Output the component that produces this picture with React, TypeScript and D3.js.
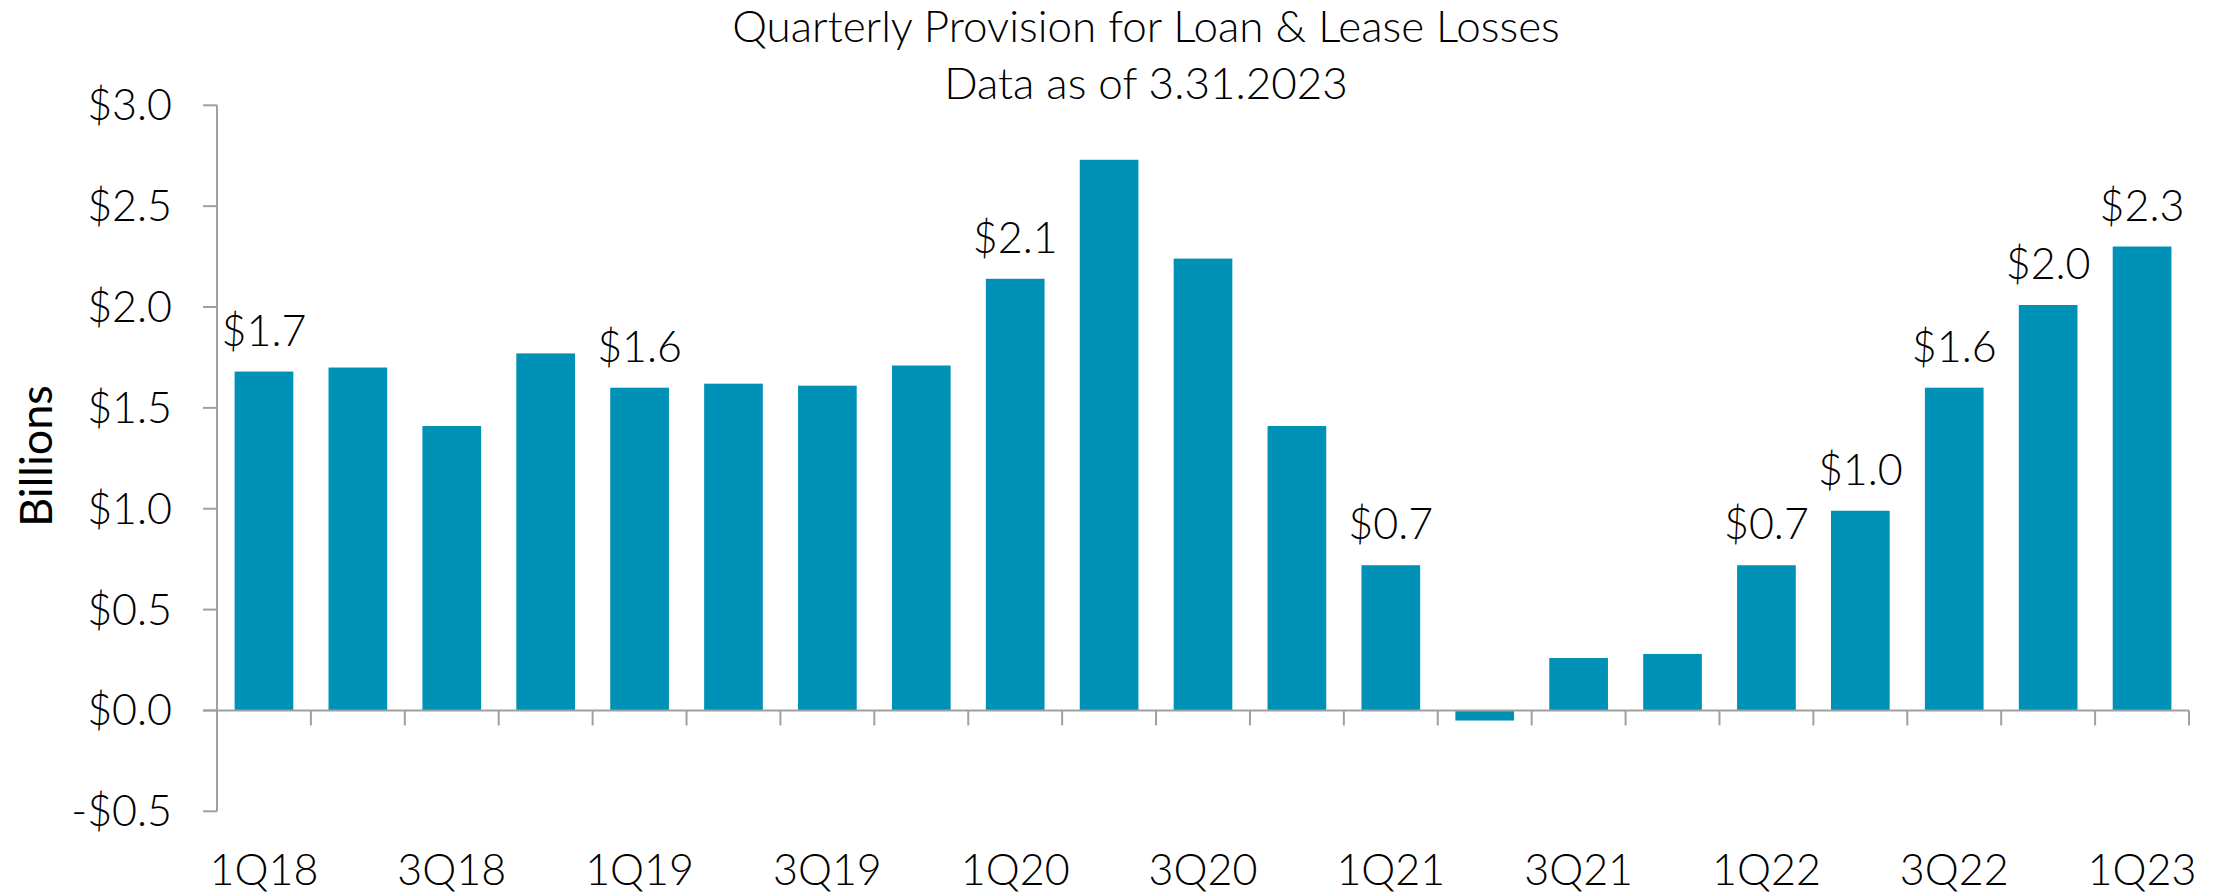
import React from "react";
import * as d3 from "d3";

const categories = ["1Q18","2Q18","3Q18","4Q18","1Q19","2Q19","3Q19","4Q19","1Q20","2Q20","3Q20","4Q20","1Q21","2Q21","3Q21","4Q21","1Q22","2Q22","3Q22","4Q22","1Q23"];
const values = [1.68,1.70,1.41,1.77,1.60,1.62,1.61,1.71,2.14,2.73,2.24,1.41,0.72,-0.05,0.26,0.28,0.72,0.99,1.60,2.01,2.30];
const labeledCategories = ["1Q18","1Q19","1Q20","1Q21","1Q22","2Q22","3Q22","4Q22","1Q23"];
const xTickLabels = ["1Q18","3Q18","1Q19","3Q19","1Q20","3Q20","1Q21","3Q21","1Q22","3Q22","1Q23"];
const yTicks = [-0.5,0,0.5,1.0,1.5,2.0,2.5,3.0];
const titleLines = ["Quarterly Provision for Loan & Lease Losses","Data as of 3.31.2023"];
const yAxisTitle = "Billions";

const W = 2218, H = 894;
const FONT = "Lato, 'Open Sans', sans-serif";
const BAR = "#0092B6";
const AXIS = "#A0A0A0";
const FS = 43;

export default function App() {
  const x = d3.scaleBand<string>().domain(categories).range([217, 2189]).paddingInner(0.375).paddingOuter(0.1875);
  const y = d3.scaleLinear().domain([-0.5, 3.0]).range([811.3, 105.3]);
  const step = x.step();
  const boundaries = categories.map(c => (x(c) as number) - (step - x.bandwidth()) / 2).concat([2189]);
  const fmt = (v: number) => (v < 0 ? "-$" : "$") + Math.abs(v).toFixed(1);
  const y0 = y(0);
  return (
    <svg width={W} height={H} style={{ position: "absolute", left: 0, top: 0, background: "#fff" }} fontFamily={FONT}>
      <rect x={0} y={0} width={W} height={H} fill="#fff" />
      {titleLines.map((t, i) => (
        <text key={t} x={1146} y={42 + i * 57} textAnchor="middle" fontSize={44} fontWeight={300} fill="#000">{t}</text>
      ))}
      <text transform={`translate(52,456) rotate(-90)`} textAnchor="middle" fontSize={45} fill="#000">{yAxisTitle}</text>
      {categories.map((c, i) => {
        const v = values[i];
        return (
          <rect key={c} x={x(c)} width={x.bandwidth()} y={Math.min(y(v), y0)} height={Math.abs(y(v) - y0)} fill={BAR} />
        );
      })}
      <line x1={217} x2={217} y1={y(3.0)} y2={y(-0.5)} stroke={AXIS} strokeWidth={2} />
      {yTicks.map(t => (
        <g key={t}>
          <line x1={203} x2={217} y1={y(t)} y2={y(t)} stroke={AXIS} strokeWidth={2} />
          <text x={172} y={y(t)} dy="0.35em" textAnchor="end" fontSize={FS} fontWeight={300} fill="#000">{fmt(t)}</text>
        </g>
      ))}
      <line x1={203} x2={2189} y1={y0} y2={y0} stroke={AXIS} strokeWidth={2} />
      {boundaries.map((b, i) => (
        <line key={i} x1={b} x2={b} y1={y0} y2={y0 + 15} stroke={AXIS} strokeWidth={2} />
      ))}
      {xTickLabels.map(c => (
        <text key={c} x={(x(c) as number) + x.bandwidth() / 2} y={885} textAnchor="middle" fontSize={FS} fontWeight={300} fill="#000">{c}</text>
      ))}
      {categories.map((c, i) => labeledCategories.includes(c) ? (
        <text key={c} x={(x(c) as number) + x.bandwidth() / 2} y={y(values[i]) - 26} textAnchor="middle" fontSize={FS} fontWeight={300} fill="#000">{fmt(values[i])}</text>
      ) : null)}
    </svg>
  );
}
